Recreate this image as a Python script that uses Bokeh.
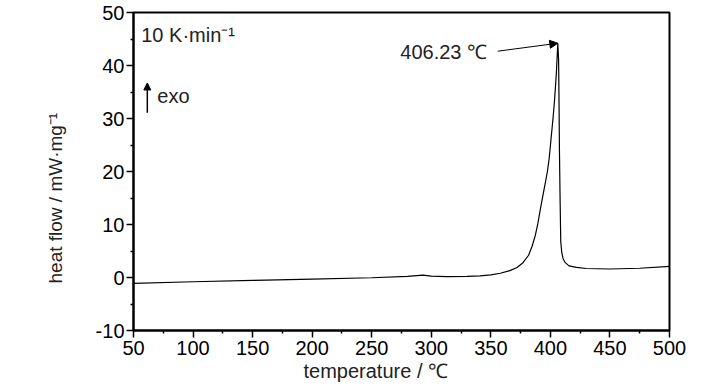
import numpy as np
from bokeh.plotting import figure
from bokeh.models import Range1d, Label, Arrow, NormalHead, FixedTicker, Title
from bokeh.embed import file_html
from bokeh.resources import INLINE

# ---- data ----
temperature = [50, 100, 150, 200, 250, 280, 293, 300, 313, 330, 341, 350, 358, 366,
               372, 377, 381.7, 384.5, 387.3, 389.5, 391.5, 393.5, 395.7, 397.5, 399,
               400.7, 402.2, 403.5, 405, 406.23, 406.9, 407.3, 407.6, 408.2, 408.7,
               409.5, 410.6, 412.5, 415.6, 422, 430, 450, 475, 500]
heat_flow = [-1.1, -0.8, -0.55, -0.3, -0.05, 0.2, 0.45, 0.25, 0.15, 0.2, 0.3, 0.5, 0.8, 1.3,
             1.9, 2.8, 4.2, 5.8, 7.9, 10.2, 12.8, 15.2, 17.8, 20.0, 22.5,
             26.5, 30.0, 33.5, 38.5, 44.2, 41.0, 32.0, 24.0, 14.0, 6.8,
             4.8, 3.6, 2.8, 2.2, 1.9, 1.7, 1.6, 1.75, 2.1]
x_ticks = [50, 100, 150, 200, 250, 300, 350, 400, 450, 500]
y_ticks = [-10, 0, 10, 20, 30, 40, 50]
peak_label = "406.23 ℃"

FONT = "Liberation Sans"
TXT = "#222222"

p = figure(width=728, height=390, output_backend="svg", toolbar_location=None,
           x_range=Range1d(x_ticks[0], x_ticks[-1]), y_range=Range1d(y_ticks[0], y_ticks[-1]),
           min_border_left=133, min_border_right=59, min_border_top=12, min_border_bottom=60)

p.grid.visible = False
p.background_fill_color = "white"
p.border_fill_color = "white"
p.outline_line_color = "black"
p.outline_line_width = 2

x_minor = [(a + b) / 2 for a, b in zip(x_ticks[:-1], x_ticks[1:])]
y_minor = [(a + b) / 2 for a, b in zip(y_ticks[:-1], y_ticks[1:])]
p.xaxis.ticker = FixedTicker(ticks=x_ticks, minor_ticks=x_minor)
p.yaxis.ticker = FixedTicker(ticks=y_ticks, minor_ticks=y_minor)
p.yaxis.major_label_overrides = {t: str(t) for t in y_ticks}

for ax in (p.xaxis, p.yaxis):
    ax.axis_line_width = 2
    ax.axis_line_color = "black"
    ax.major_tick_line_width = 1.5
    ax.minor_tick_line_width = 1.5
    ax.major_tick_in = 0
    ax.major_tick_out = 7
    ax.minor_tick_in = 0
    ax.minor_tick_out = 3
    ax.major_label_text_font = FONT
    ax.major_label_text_font_size = "20px"
    ax.major_label_text_color = "black"
p.xaxis.major_label_standoff = 3
p.yaxis.major_label_standoff = 2

# axis titles, placed as side titles so they sit where the reference puts them
p.add_layout(Title(text="temperature / ℃", align="left", offset=170, standoff=0,
                   text_font=FONT, text_font_size="20px", text_font_style="normal",
                   text_color=TXT), "below")
p.add_layout(Title(text="heat flow / mW·mg⁻¹", align="left", offset=47, standoff=53,
                   text_font=FONT, text_font_size="19px", text_font_style="normal",
                   text_color=TXT), "left")

# curve
p.line(temperature, heat_flow, line_color="black", line_width=1.2)

# peak annotation
i_peak = int(np.argmax(heat_flow))
p.add_layout(Arrow(end=NormalHead(size=8, fill_color="black", line_color="black"),
                   x_start=355.8, y_start=42.7,
                   x_end=temperature[i_peak], y_end=heat_flow[i_peak],
                   line_color="black", line_width=1))
p.add_layout(Label(x=274, y=42.6, text=peak_label, text_font=FONT,
                   text_font_size="20px", text_color=TXT,
                   text_align="left", text_baseline="middle"))

# heating rate
p.add_layout(Label(x=56.5, y=45.7, text="10 K·min⁻¹", text_font=FONT,
                   text_font_size="20px", text_color=TXT,
                   text_align="left", text_baseline="middle"))

# exo arrow
p.add_layout(Arrow(end=NormalHead(size=7, fill_color="black", line_color="black"),
                   x_start=61.6, y_start=31.1, x_end=61.6, y_end=36.7,
                   line_color="black", line_width=1.5))
p.add_layout(Label(x=70, y=34.2, text="exo", text_font=FONT,
                   text_font_size="20px", text_color=TXT,
                   text_align="left", text_baseline="middle"))

open("out.html", "w").write(file_html(p, INLINE))
